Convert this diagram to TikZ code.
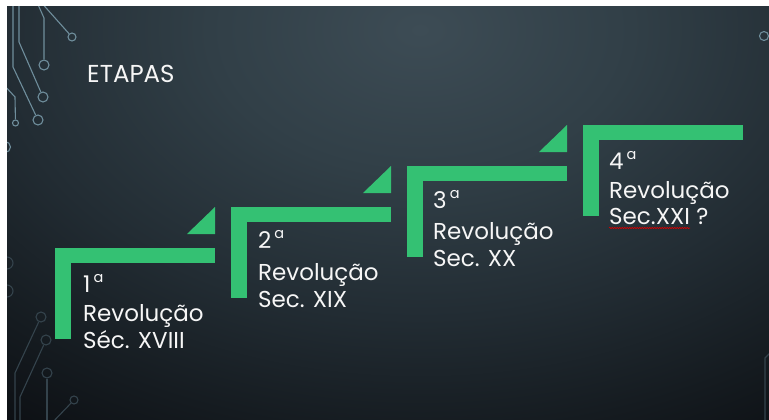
\documentclass[tikz,border=0pt]{standalone}
\usepackage{fontspec}
\setmainfont{Poppins}
\usetikzlibrary{decorations.pathmorphing}
\definecolor{grn}{HTML}{34C173}
\definecolor{circA}{HTML}{6F8E9C}
\definecolor{circB}{HTML}{34434C}
\definecolor{txt}{HTML}{F6F6F6}
\definecolor{bgA}{HTML}{3D4C55}
\definecolor{bgB}{HTML}{313F47}
\definecolor{bgC}{HTML}{222C33}
\definecolor{bgD}{HTML}{151B20}
\definecolor{bgE}{HTML}{0D1014}
\pgfdeclareradialshading{bgshade}{\pgfpoint{0bp}{0bp}}{color(0bp)=(bgA); color(9bp)=(bgB); color(18bp)=(bgC); color(25.2bp)=(bgD); color(30bp)=(bgE); color(50bp)=(bgE)}
\newcommand\ordA{\hspace{3pt}\raisebox{9.5pt}{\fontsize{14.5}{14.5}\selectfont a}}
\begin{document}
\begin{tikzpicture}[x=1pt,y=-1pt,
  cnode/.style={circle, draw=circA, line width=1.1pt, minimum size=#1, inner sep=0pt},
  dnode/.style={circle, draw=circB, line width=1.1pt, minimum size=#1, inner sep=0pt},
  ctrace/.style={draw=circA, line width=1.1pt},
  dtrace/.style={draw=circB, line width=1.1pt},
  lbl/.style={anchor=base west, text=txt, inner sep=0pt, font=\fontsize{23}{23}\selectfont}]
\useasboundingbox (0,0) rectangle (769,420);
\fill[white] (0,0) rectangle (769,420);
\begin{scope}
\clip (7,7) rectangle (769,420);
\fill[shading=bgshade] (-168,-370) rectangle (1008,430);
% top-left circuit
\node[cnode=10pt] (c1) at (38,120) {};
\node[cnode=10pt] (c2) at (43,97) {};
\node[cnode=10pt] (c3) at (44,65) {};
\node[cnode=8pt] (c4) at (72,37) {};
\node[cnode=6pt] (c5) at (15.5,123) {};
\node[cnode=11pt] (c6) at (5,147) {};
\node[cnode=9pt] (c7) at (764,36) {};
\coordinate (p1a) at (13,0); \coordinate (p1b) at (13,67);
\coordinate (p2a) at (19,0); \coordinate (p2b) at (19,42);
\coordinate (p3a) at (36,0); \coordinate (p3b) at (44,18);
\coordinate (p4a) at (39,0);
\coordinate (p5a) at (3,84); \coordinate (p5b) at (15,97);
\draw[ctrace] (p1a) -- (p1b) -- (c1);
\draw[ctrace] (p2a) -- (p2b) -- (c2);
\draw[ctrace] (p3a) -- (p3b) -- (c3);
\draw[ctrace] (p4a) -- (c4);
\draw[ctrace] (p5a) -- (p5b) -- (c5);
% bottom-left circuit
\node[dnode=12pt] (d1) at (7,263) {};
\node[dnode=12pt] (d2) at (7,291) {};
\node[dnode=10pt] (d3) at (41,317) {};
\node[dnode=10pt] (d4) at (46,340) {};
\node[dnode=10pt] (d5) at (47,373) {};
\node[dnode=8pt] (d6) at (74,400) {};
\coordinate (q3a) at (15,425); \coordinate (q3b) at (15,373);
\coordinate (q4a) at (20,425); \coordinate (q4b) at (20,397);
\coordinate (q5a) at (47,425);
\coordinate (q6a) at (50,425);
\draw[dtrace] (q3a) -- (q3b) -- (d3);
\draw[dtrace] (q4a) -- (q4b) -- (d4);
\draw[dtrace] (q5a) -- (d5);
\draw[dtrace] (q6a) -- (d6);
\coordinate (r1) at (765,425); \coordinate (r2) at (765,358); \coordinate (r3) at (773,350);
\draw[dtrace] (r1) -- (r2) -- (r3);
\end{scope}
% title
\node[lbl, font=\fontsize{24.5}{24.5}\selectfont] (title) at (87,82) {ETAPAS};
% steps
\foreach \k in {0,1,2,3}{
  \pgfmathsetmacro\X{55+176*\k}
  \pgfmathsetmacro\Y{248-41*\k}
  \fill[grn] (\X,\Y) rectangle ++(160,15);
  \fill[grn] (\X,\Y) rectangle ++(16,91);
  \ifnum\k<3
    \fill[grn] (\X+132,\Y-14) -- (\X+160,\Y-14) -- (\X+160,\Y-41) -- cycle;
  \fi
}
\node[lbl] (n1) at (83,292) {1\ordA};
\node[lbl] (r1t) at (83,321) {Revolução};
\node[lbl] (s1) at (83,348) {Séc. XVIII};
\node[lbl] (n2) at (258,248) {2\ordA};
\node[lbl] (r2t) at (258,280) {Revolução};
\node[lbl] (s2) at (258,307) {Sec. XIX};
\node[lbl] (n3) at (433,208) {3\ordA};
\node[lbl] (r3t) at (433,239) {Revolução};
\node[lbl] (s3) at (433,266) {Sec. XX};
\node[lbl] (n4) at (609,169) {4\ordA};
\node[lbl] (r4t) at (609,198) {Revolução};
\node[lbl] (s4) at (609,224) {Sec.XXI};
\node[lbl, anchor=base west] (q4) at ([xshift=6pt]s4.base east) {?};
\draw[red!85!black, line width=0.6pt, decorate, decoration={snake, amplitude=0.7pt, segment length=2.5pt}]
  ([yshift=-4pt]s4.base west) -- ([yshift=-4pt]s4.base east);
\end{tikzpicture}
\end{document}
